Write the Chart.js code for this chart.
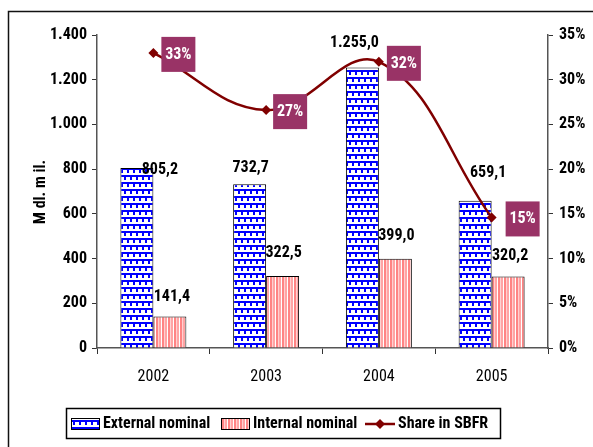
<!DOCTYPE html>
<html lang="en">
<head>
    <meta charset="UTF-8">
    <title>External / Internal nominal</title>
    <style>
        body {
            margin: 0;
            background: #ffffff;
        }
        #wrap {
            width: 593px;
            height: 447px;
        }
    </style>
</head>
<body>
    <div id="wrap"><canvas id="chart" width="593" height="447"></canvas></div>

    <script src="https://cdn.jsdelivr.net/npm/chart.js"></script>
    <script>
        // data
        const years = ['2002', '2003', '2004', '2005'];
        const externalNominal = [805.2, 732.7, 1255.0, 659.1];
        const internalNominal = [141.4, 322.5, 399.0, 320.2];
        const shareSBFR = [0.33, 0.266, 0.32, 0.146];

        const FONT = "'Roboto Condensed', 'Liberation Sans Narrow', 'Arial Narrow', sans-serif";
        const LINE_RED = '#800000';
        const TAG_BG = '#993366';

        Chart.defaults.font.family = FONT;
        Chart.defaults.font.size = 16;
        Chart.defaults.color = '#000';

        function fmtNum(v, dec) {
            let parts = v.toFixed(dec).split('.');
            parts[0] = parts[0].replace(/\B(?=(\d{3})+(?!\d))/g, '.');
            return dec ? parts[0] + ',' + parts[1] : parts[0];
        }

        // brick pattern for the external bars
        function brickPattern(ctx) {
            let c = document.createElement('canvas');
            c.width = 12; c.height = 14;
            let g = c.getContext('2d');
            g.fillStyle = '#fff';
            g.fillRect(0, 0, 12, 14);
            g.fillStyle = '#0000ff';
            g.fillRect(0, 0, 12, 2);
            g.fillRect(0, 7, 12, 2);
            g.fillRect(1, 2, 2, 3);
            g.fillRect(7, 2, 2, 3);
            g.fillRect(4, 9, 2, 3);
            g.fillRect(10, 9, 2, 3);
            return ctx.createPattern(c, 'repeat');
        }

        // vertical pink stripes for the internal bars
        function stripePattern(ctx) {
            let c = document.createElement('canvas');
            c.width = 6; c.height = 4;
            let g = c.getContext('2d');
            g.fillStyle = '#fff';
            g.fillRect(0, 0, 6, 4);
            g.fillStyle = '#ff8484';
            g.fillRect(0, 0, 2, 4);
            g.fillStyle = '#ffd0d0';
            g.fillRect(2, 0, 1, 4);
            g.fillStyle = '#ffa4a4';
            g.fillRect(3, 0, 2, 4);
            return ctx.createPattern(c, 'repeat');
        }

        const ctx = document.getElementById('chart').getContext('2d');
        const brick = brickPattern(ctx);
        const stripe = stripePattern(ctx);

        // outer frame, y title, legend
        const decoPlugin = {
            id: 'deco',
            beforeDraw(chart) {
                let c = chart.ctx;
                c.save();
                c.fillStyle = '#fff';
                c.fillRect(0, 0, chart.width, chart.height);
                c.strokeStyle = '#111';
                c.lineWidth = 1.5;
                c.strokeRect(8.5, 11.5, 700, 600);
                c.restore();
            },
            afterDraw(chart) {
                let c = chart.ctx;
                c.save();
                // y axis title
                c.translate(41, 192);
                c.rotate(-Math.PI / 2);
                c.font = 'bold 16px ' + FONT;
                c.textAlign = 'center';
                c.textBaseline = 'middle';
                c.fillStyle = '#000';
                c.fillText('M dl. m il.', 0, 0);
                c.restore();

                // legend
                c.save();
                c.strokeStyle = '#000';
                c.lineWidth = 1.5;
                c.strokeRect(66.5, 408.5, 434, 30);
                c.lineWidth = 1;
                c.fillStyle = brick;
                c.fillRect(71, 418, 28, 11);
                c.strokeRect(71.5, 418.5, 28, 11);
                c.fillStyle = stripe;
                c.fillRect(221, 418, 28, 11);
                c.strokeRect(221.5, 418.5, 28, 11);
                c.strokeStyle = LINE_RED;
                c.lineWidth = 2.5;
                c.beginPath();
                c.moveTo(365, 424);
                c.lineTo(395, 424);
                c.stroke();
                c.fillStyle = LINE_RED;
                c.beginPath();
                c.moveTo(380, 419); c.lineTo(385, 424); c.lineTo(380, 429); c.lineTo(375, 424);
                c.closePath();
                c.fill();
                c.fillStyle = '#000';
                c.font = 'bold 16px ' + FONT;
                c.textBaseline = 'middle';
                c.textAlign = 'left';
                c.fillText('External nominal', 103, 424);
                c.fillText('Internal nominal', 253, 424);
                c.fillText('Share in SBFR', 398, 424);
                c.restore();
            }
        };

        // value labels on bars and boxed labels on the line
        const labelPlugin = {
            id: 'labels',
            afterDatasetsDraw(chart, args, opts) {
                let c = chart.ctx;
                c.save();
                c.font = 'bold 16px ' + FONT;
                c.textAlign = 'center';
                c.textBaseline = 'middle';
                [0, 1].forEach(di => {
                    let ds = chart.data.datasets[di];
                    chart.getDatasetMeta(di).data.forEach((el, i) => {
                        let n = opts.nudge[di][i];
                        c.fillStyle = '#000';
                        c.fillText(fmtNum(ds.data[i], 1), el.x + n[0], el.y + n[1]);
                    });
                });
                let line = chart.data.datasets[2];
                chart.getDatasetMeta(2).data.forEach((el, i) => {
                    let cx = el.x + opts.tagDx[i];
                    let cy = el.y + 1;
                    c.fillStyle = TAG_BG;
                    c.fillRect(cx - 17, cy - 17, 34, 35);
                    c.fillStyle = '#fff';
                    c.fillText(Math.round(line.data[i] * 100) + '%', cx, cy + 1);
                });
                c.restore();
            }
        };

        new Chart(ctx, {
            type: 'bar',
            data: {
                labels: years,
                datasets: [{
                    label: 'External nominal',
                    data: externalNominal,
                    backgroundColor: brick,
                    borderColor: '#000',
                    borderWidth: 1,
                    yAxisID: 'y',
                    order: 2,
                    categoryPercentage: 0.585,
                    barPercentage: 1.0
                }, {
                    label: 'Internal nominal',
                    data: internalNominal,
                    backgroundColor: stripe,
                    borderColor: '#000',
                    borderWidth: 1,
                    yAxisID: 'y',
                    order: 2,
                    categoryPercentage: 0.585,
                    barPercentage: 1.0
                }, {
                    type: 'line',
                    label: 'Share in SBFR',
                    data: shareSBFR,
                    borderColor: LINE_RED,
                    borderWidth: 2.5,
                    backgroundColor: LINE_RED,
                    pointStyle: 'rectRot',
                    pointRadius: 5,
                    pointBorderWidth: 0,
                    tension: 0.4,
                    clip: false,
                    yAxisID: 'y1',
                    order: 1
                }]
            },
            options: {
                responsive: false,
                animation: false,
                layout: { padding: { top: 35, left: 0, right: 0, bottom: 0 } },
                plugins: {
                    legend: { display: false },
                    tooltip: { enabled: false },
                    labels: {
                        nudge: [
                            [[23, 2], [1, -16], [-8, -24], [13, -28]],
                            [[2, -19], [1, -23], [1, -23], [2, -20]]
                        ],
                        tagDx: [25, 24, 25, 31]
                    }
                },
                scales: {
                    x: {
                        offset: true,
                        grid: {
                            offset: true,
                            drawOnChartArea: false,
                            color: '#333',
                            tickLength: 6
                        },
                        border: { color: '#555', width: 1.5 },
                        ticks: { padding: 13, font: { size: 16 } },
                        afterFit(s) { s.height = 99; }
                    },
                    y: {
                        position: 'left',
                        min: 0,
                        max: 1400,
                        ticks: {
                            stepSize: 200,
                            padding: 5,
                            font: { size: 16, weight: 'bold' },
                            callback: v => fmtNum(v, 0)
                        },
                        grid: { drawOnChartArea: false, color: '#333', tickLength: 5 },
                        border: { color: '#555', width: 1.5 },
                        afterFit(s) { s.width = 97; }
                    },
                    y1: {
                        position: 'right',
                        min: 0,
                        max: 0.35,
                        ticks: {
                            stepSize: 0.05,
                            padding: 6,
                            font: { size: 16, weight: 'bold' },
                            callback: v => Math.round(v * 100) + '%'
                        },
                        grid: { drawOnChartArea: false, color: '#333', tickLength: 5 },
                        border: { color: '#555', width: 1.5 },
                        afterFit(s) { s.width = 45; }
                    }
                }
            },
            plugins: [decoPlugin, labelPlugin]
        });
    </script>
</body>
</html>
